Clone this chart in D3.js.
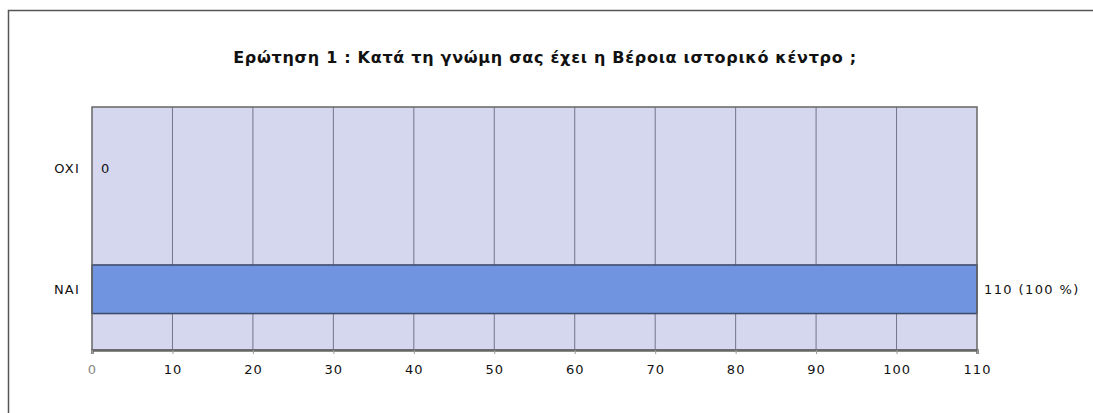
<!DOCTYPE html>
<html>
<head>
<meta charset="utf-8">
<script src="https://cdn.jsdelivr.net/npm/d3@7"></script>
<style>
  body { margin: 0; background: #fff; overflow: hidden; }
  svg { display: block; }
  text { font-family: "DejaVu Sans", Verdana, sans-serif; }
</style>
</head>
<body>
<div class="chart"></div>
<script>
// chart data
var categories = ["OXI", "NAI"];
var counts = [0, 110];
var valueLabels = ["0", "110 (100 %)"];
var tickValues = [0, 10, 20, 30, 40, 50, 60, 70, 80, 90, 100, 110];
var title = "Ερώτηση 1 : Κατά τη γνώμη σας έχει η Βέροια ιστορικό κέντρο ;";

var svgWidth = 1093;
var svgHeight = 413;
var margin = { top: 107, right: 116, bottom: 63, left: 92 };
var width = svgWidth - margin.left - margin.right;
var height = svgHeight - margin.top - margin.bottom;

var svg = d3
    .select(".chart")
    .append("svg")
    .attr("width", svgWidth)
    .attr("height", svgHeight);

// outer frame: only the top and left edges are visible
svg.append("path")
    .attr("d", "M8.5," + svgHeight + "V10.5H" + svgWidth)
    .attr("fill", "none")
    .attr("stroke", "#555")
    .attr("stroke-width", 1.5);

svg.append("text")
    .attr("x", 545)
    .attr("y", 63)
    .attr("text-anchor", "middle")
    .style("font-size", "16px")
    .style("letter-spacing", "0.7px")
    .style("font-weight", "bold")
    .style("fill", "#111")
    .text(title);

var chart = svg.append("g")
    .attr("transform", "translate(" + margin.left + "," + margin.top + ")");

var xScale = d3.scaleLinear().domain([0, 110]).range([0, width]);
var yScale = d3.scaleBand().domain(categories).range([0, height])
    .paddingInner(0.6).paddingOuter(0.3);

// plot background
chart.append("rect")
    .attr("width", width)
    .attr("height", height)
    .attr("fill", "#d5d7ef");

// vertical grid lines
chart.append("g")
    .selectAll("line")
    .data(tickValues.slice(1, -1))
    .enter()
    .append("line")
    .attr("x1", function (d) { return xScale(d); })
    .attr("x2", function (d) { return xScale(d); })
    .attr("y1", 0)
    .attr("y2", height)
    .attr("stroke", "#74748a")
    .attr("stroke-width", 1);

// bars
chart.selectAll(".bar")
    .data(counts)
    .enter()
    .append("rect")
    .attr("class", "bar")
    .attr("x", 0)
    .attr("y", function (d, i) { return yScale(categories[i]); })
    .attr("width", function (d) { return xScale(d); })
    .attr("height", yScale.bandwidth())
    .attr("fill", "#7094e0")
    .attr("stroke", function (d) { return d > 0 ? "#3d4966" : "none"; })
    .attr("stroke-width", 1.5);

// plot frame
chart.append("rect")
    .attr("width", width)
    .attr("height", height)
    .attr("fill", "none")
    .attr("stroke", "#666")
    .attr("stroke-width", 1.5);

// x axis
var bottomAxis = d3.axisBottom(xScale).tickValues(tickValues).tickSize(4).tickPadding(11);
var xAxis = chart.append("g")
    .attr("transform", "translate(0," + height + ")")
    .call(bottomAxis);
xAxis.select(".domain").attr("stroke", "#666").attr("stroke-width", 2.5);
xAxis.selectAll(".tick line").attr("stroke", "#999");
xAxis.selectAll(".tick text")
    .style("font-size", "13px")
    .style("letter-spacing", "1px")
    .style("fill", function (d) { return d === 0 ? "#888" : "#111"; });

// category labels
chart.selectAll(".cat")
    .data(categories)
    .enter()
    .append("text")
    .attr("class", "cat")
    .attr("x", -12)
    .attr("y", function (d) { return yScale(d) + yScale.bandwidth() / 2 + 5; })
    .attr("text-anchor", "end")
    .style("font-size", "13px")
    .style("letter-spacing", "1.2px")
    .style("fill", "#111")
    .text(function (d) { return d; });

// value labels
chart.selectAll(".val")
    .data(counts)
    .enter()
    .append("text")
    .attr("class", "val")
    .attr("x", function (d) { return xScale(d) + (d > 0 ? 7 : 9); })
    .attr("y", function (d, i) { return yScale(categories[i]) + yScale.bandwidth() / 2 + 5; })
    .style("font-size", "13px")
    .style("letter-spacing", "1.4px")
    .style("fill", "#111")
    .text(function (d, i) { return valueLabels[i]; });
</script>
</body>
</html>
